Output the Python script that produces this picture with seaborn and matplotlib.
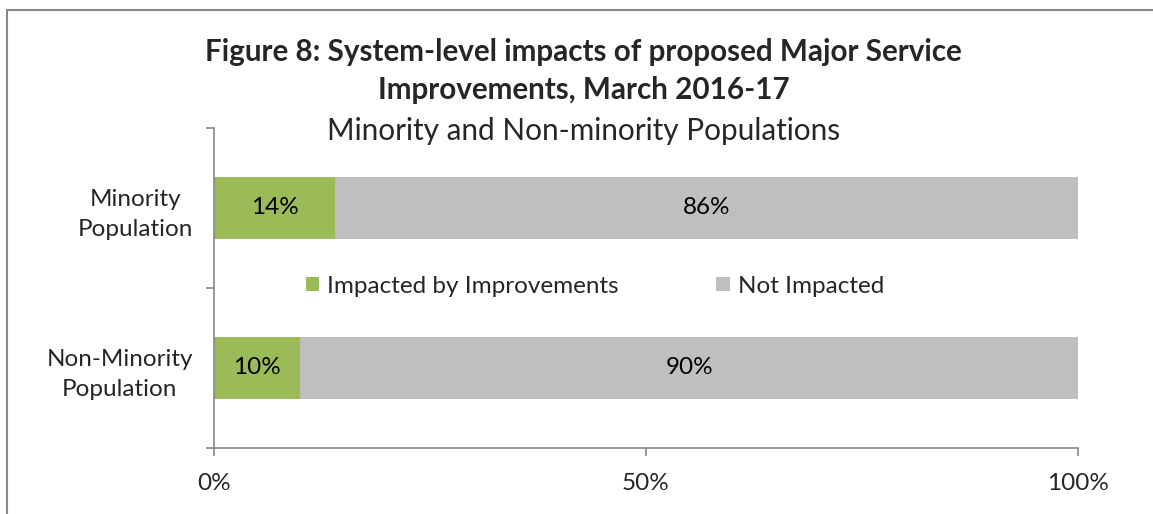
import matplotlib
matplotlib.use("Agg")
import matplotlib.pyplot as plt
import seaborn as sns
import pandas as pd
from matplotlib.patches import Patch, Rectangle

# Data
categories = ["Minority\nPopulation", "Non-Minority\nPopulation"]
impacted = [14, 10]
not_impacted = [86, 90]
series_names = ["Impacted by Improvements", "Not Impacted"]
x_ticks = [0, 50, 100]
x_tick_labels = ["0%", "50%", "100%"]

GREEN = "#9BBB59"
GRAY = "#BFBFBF"
FONT = "Lato"
FS = 17.5

sns.set_theme(style="white")
plt.rcParams["font.family"] = [FONT, "DejaVu Sans"]

df = pd.DataFrame({
    "category": categories,
    "impacted": impacted,
    "total": [a + b for a, b in zip(impacted, not_impacted)],
})

fig = plt.figure(figsize=(11.53, 5.14), dpi=100)
ax = fig.add_axes([214 / 1153, 1 - 448 / 514, (1078 - 214) / 1153, 320 / 514])

# Stacked horizontal bars: full-length grey first, green segment over it
sns.barplot(data=df, y="category", x="total", color=GRAY, width=0.39,
            orient="h", ax=ax, saturation=1, linewidth=0)
sns.barplot(data=df, y="category", x="impacted", color=GREEN, width=0.39,
            orient="h", ax=ax, saturation=1, linewidth=0)

# Value labels centred in each segment
for i, (a, b) in enumerate(zip(impacted, not_impacted)):
    ax.text(a / 2, i, f"{a}%", ha="center", va="center", fontsize=FS, color="#000000")
    ax.text(a + b / 2, i, f"{b}%", ha="center", va="center", fontsize=FS, color="#000000")

ax.set_xlim(0, 100)
ax.set_ylim(1.5, -0.5)
ax.set_xlabel("")
ax.set_ylabel("")

# Axes styling
for side in ["top", "right"]:
    ax.spines[side].set_visible(False)
for side in ["left", "bottom"]:
    ax.spines[side].set_color("#888888")
    ax.spines[side].set_linewidth(1.2)

ax.set_xticks(x_ticks)
ax.set_xticklabels(x_tick_labels, fontsize=FS)
ax.tick_params(axis="x", direction="out", length=6, width=1.2, color="#888888",
               pad=12, bottom=True)

ax.set_yticks([-0.5, 0.5, 1.5])
ax.set_yticklabels([])
ax.set_yticks([0, 1], minor=True)
ax.set_yticklabels(categories, minor=True, fontsize=FS, multialignment="center",
                   linespacing=1.55)
ax.tick_params(axis="y", which="major", direction="out", length=6, width=1.2,
               color="#888888", left=True)
ax.tick_params(axis="y", which="minor", length=0, pad=15)

# Legend
handles = [Patch(facecolor=GREEN, edgecolor="none"), Patch(facecolor=GRAY, edgecolor="none")]
ax.legend(handles, series_names, loc="center", bbox_to_anchor=(0.441, 0.506),
          ncol=2, frameon=False, fontsize=FS, handlelength=0.55, handleheight=0.55,
          handletextpad=0.35, columnspacing=4.0)

# Titles
fig.text(0.506, 1 - 52 / 514, "Figure 8: System-level impacts of proposed Major Service",
         ha="center", va="center", fontsize=21.3, fontweight="bold")
fig.text(0.506, 1 - 90 / 514, "Improvements, March 2016-17",
         ha="center", va="center", fontsize=21.3, fontweight="bold")
fig.text(0.506, 1 - 131 / 514, "Minority and Non-minority Populations",
         ha="center", va="center", fontsize=21.4)

# Chart frame
fig.patches.append(Rectangle((7 / 1153, -0.05), 1.2, 1 - 10 / 514 + 0.05,
                             transform=fig.transFigure, fill=False,
                             edgecolor="#888888", linewidth=1.5))

fig.savefig("out.png", dpi=100)
